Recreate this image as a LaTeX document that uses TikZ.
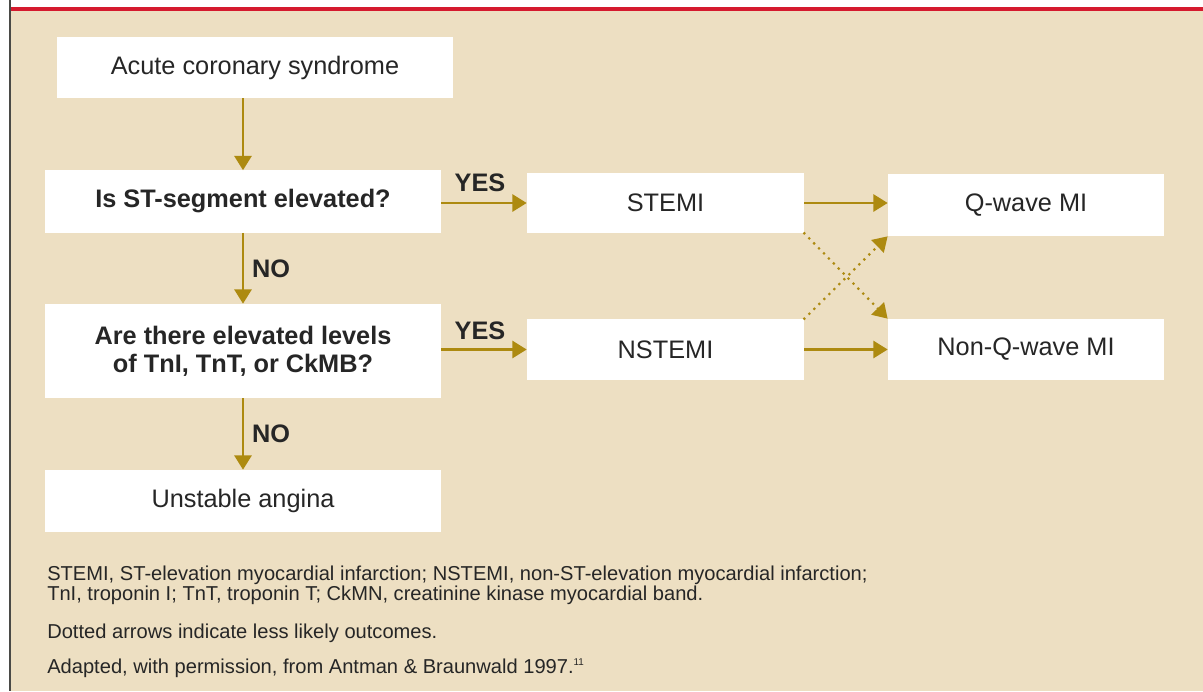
\documentclass[tikz,border=0pt]{standalone}
\usepackage{fontspec}
\setmainfont{Liberation Sans}
\setsansfont{Liberation Sans}
\usetikzlibrary{arrows.meta,positioning}
\definecolor{acsInk}{HTML}{262626}
\definecolor{acsGold}{HTML}{AD8A10}
\definecolor{acsBg}{HTML}{EDDFC2}
\definecolor{acsRed}{HTML}{D51A2E}
\definecolor{acsRule}{HTML}{4A4A46}
\tikzset{
  acsbox/.style={fill=white, draw=none, inner sep=0pt, align=center, text=acsInk,
                 font=\sffamily\fontsize{18}{20}\selectfont},
  acsq/.style={acsbox, font=\sffamily\bfseries\fontsize{18}{20}\selectfont},
  acslabel/.style={font=\sffamily\bfseries\fontsize{18}{20}\selectfont, text=acsInk, inner sep=0pt},
  acsnote/.style={font=\sffamily\fontsize{14.3}{13.6}\selectfont, text=acsInk, inner sep=0pt,
                  align=left, anchor=base west},
  acsarrow/.style={-{Triangle[length=0.36cm, width=0.43cm]}, line width=1.8pt, draw=acsGold},
  acsdotted/.style={acsarrow, line width=2.2pt, line cap=round, dash pattern=on 0pt off 5pt}
}
\begin{document}
\begin{tikzpicture}[x=0.025cm, y=-0.025cm]
\useasboundingbox (0,0) rectangle (1203,691);
% panel
\fill[white] (0,0) rectangle (1203,691);
\fill[acsBg] (11,11) rectangle (1203,691);
\fill[acsRed] (11,7) rectangle (1203,11);
\draw[acsRule, line width=1.1pt] (10,0) -- (10,691);

% left column
\node[acsbox, minimum width=9.9cm, minimum height=1.525cm] (acs) at (255,67.5) {Acute coronary syndrome};
\node[acsq, minimum width=9.9cm, minimum height=1.55cm] (stq) at (243,201.5) {Is ST-segment elevated?};
\node[acsq, minimum width=9.9cm, minimum height=2.35cm] (lvq) at (243,351) {Are there elevated levels\\of TnI, TnT, or CkMB?};
\node[acsbox, minimum width=9.9cm, minimum height=1.55cm] (ua) at (243,501) {Unstable angina};

% middle and right columns
\node[acsbox, minimum width=6.925cm, minimum height=1.5cm] (stemi) at (665.5,203) {STEMI};
\node[acsbox, minimum width=6.925cm, minimum height=1.525cm] (nstemi) at (665.5,349.5) {NSTEMI};
\node[acsbox, minimum width=6.9cm, minimum height=1.55cm] (qmi) at (1026,205) {Q-wave MI};
\node[acsbox, minimum width=6.9cm, minimum height=1.525cm] (nqmi) at (1026,349.5) {Non-Q-wave MI};

% answers
\node[acslabel] (yes1) at (480,182.5) {YES};
\node[acslabel] (yes2) at (480,331) {YES};
\node[acslabel] (no1) at (271,268.5) {NO};
\node[acslabel] (no2) at (271,434) {NO};

% connectors
\draw[acsarrow] (acs.south -| stq.north) -- (stq.north);
\draw[acsarrow] (stq.south) -- (lvq.north);
\draw[acsarrow] (lvq.south) -- (ua.north);
\draw[acsarrow] (stq.east |- stemi) -- (stemi.west);
\draw[acsarrow] (lvq.east |- nstemi) -- (nstemi.west);
\draw[acsarrow] (stemi.east) -- (stemi.east -| qmi.west);
\draw[acsarrow] (nstemi.east) -- (nqmi.west);
\draw[acsdotted] (stemi.south east) -- (nqmi.north west);
\draw[acsdotted] (nstemi.north east) -- (qmi.south west);

% notes
\node[acsnote] (abbr) at (47,600) {STEMI, ST-elevation myocardial infarction; NSTEMI, non-ST-elevation myocardial infarction;\\TnI, troponin I; TnT, troponin T; CkMN, creatinine kinase myocardial band.};
\node[acsnote] (dots) at (47,638) {Dotted arrows indicate less likely outcomes.};
\node[acsnote] (src) at (47,673) {Adapted, with permission, from Antman \& Braunwald 1997.\textsuperscript{\fontsize{7}{7}\selectfont 11}};
\end{tikzpicture}
\end{document}
